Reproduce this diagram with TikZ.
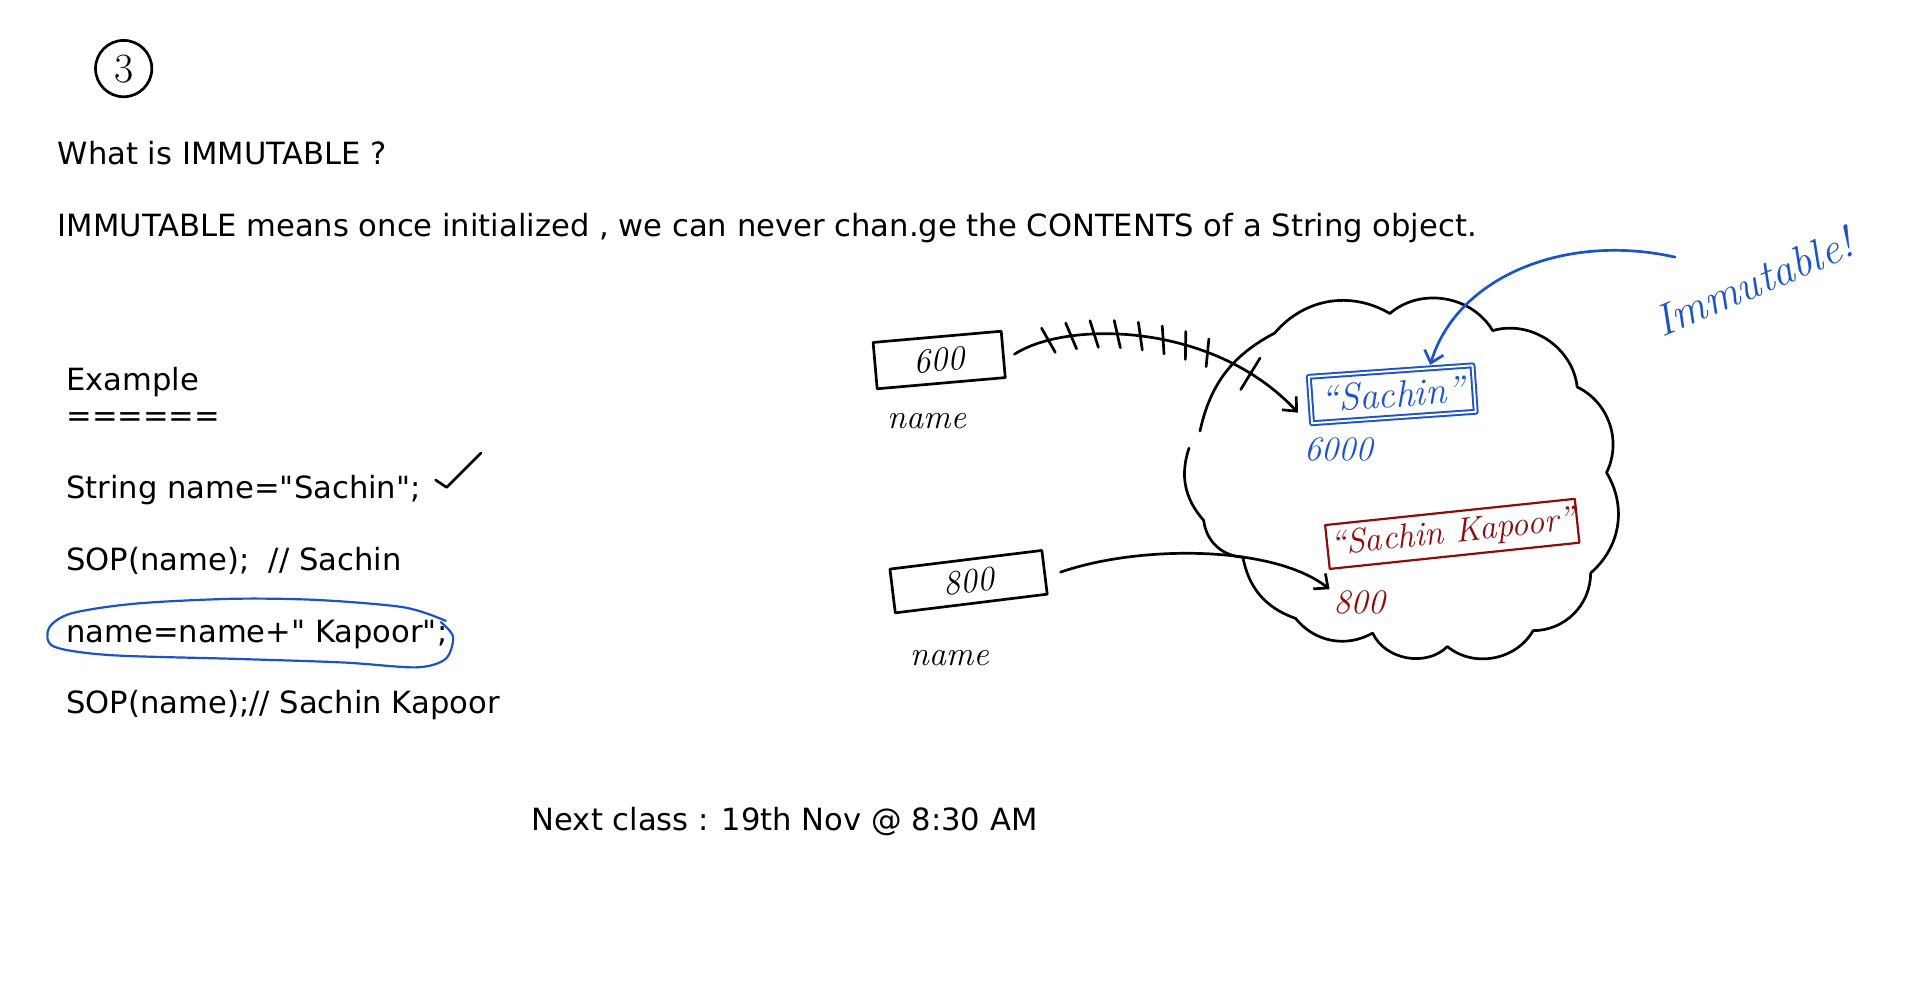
\documentclass[tikz,border=0pt]{standalone}
\usepackage{fontspec}
\usepackage{tikz}
\usetikzlibrary{arrows.meta,positioning,calc,decorations.markings}
\newfontfamily\notefont{DejaVu Sans}
\definecolor{penblue}{RGB}{28,82,204}
\definecolor{penred}{RGB}{140,12,12}
\tikzstyle{typed}=[anchor=base west,inner sep=0pt,font=\notefont\fontsize{25}{29}\selectfont]
\tikzstyle{hand}=[inner sep=1pt,font=\fontsize{28}{30}\selectfont\itshape]
\tikzstyle{pen}=[line width=2.2pt,line cap=round,line join=round]
\tikzstyle{membox}=[draw,pen,minimum height=38pt,inner sep=0pt,hand]
\tikzstyle{ref}=[pen,-{Straight Barb[length=9pt,width=16pt]}]
\tikzstyle{crossed}=[postaction=decorate,decoration={markings,
  mark=between positions 0.12 and 0.66 step 0.075 with {\draw[pen,-] (-3,-11) -- (3,11);},
  mark=at position 0.8 with {\draw[pen,-] (0,-15) -- (0,15);}}]

\begin{document}
\begin{tikzpicture}[x=1pt,y=-1pt]
\useasboundingbox (0,0) rectangle (1568,809);
\node [draw,circle,pen,minimum size=46pt,hand,font=\fontsize{34}{34}\selectfont] (num) at (101,56) {3};
\node [typed] (what) at (47,134) {What is IMMUTABLE ?};
\node [typed] (means) at (47,193) {IMMUTABLE means once initialized , we can never chan.ge the CONTENTS of a String object.};
\node [typed] (example) at (54,319) {Example};
\node [typed] (rule) at (54,348) {======};
\node [typed] (decl) at (54,407) {String name="Sachin";};
\node [typed] (print1) at (54,466) {SOP(name);\ \ // Sachin};
\node [typed] (concat) at (54,525) {name=name+" Kapoor";};
\node [typed] (print2) at (54,583) {SOP(name);// Sachin Kapoor};
\node [typed] (nextclass) at (434,678) {Next class : 19th Nov @ 8:30 AM};
\draw [pen] ($(decl.base east)+(12,-15)$) -- ++(9,6) -- ++(28,-28);
\draw [pen,penblue,line width=1.8pt] plot [smooth] coordinates {(364,507) (330,496) (260,490) (190,489)
  (110,493) (58,501) (40,513) (44,528) (90,535) (190,538) (280,541) (340,545) (364,538) (370,520) (360,508)};

% references
\node [membox,rotate=5,minimum width=105pt] (boxA) at (767,294) {600};
\node [hand,below=22pt of boxA,xshift=-12pt] (nameA) {name};
\node [membox,rotate=7,minimum width=125pt,minimum height=36pt] (boxB) at (791,475) {800};
\node [hand,below=36pt of boxB,xshift=-18pt] (nameB) {name};

% string pool
\draw [pen] (980,352) to[bend left=25] (1041,272) to[bend left=40] (1135,256)
  to[bend left=50] (1219,270) to[bend left=50] (1288,316) to[bend left=45] (1312,386)
  to[bend left=40] (1299,468) to[bend left=45] (1252,515) to[bend left=50] (1182,528)
  to[bend left=55] (1121,517) to[bend left=40] (1058,505) to[bend left=30] (1015,455)
  to[bend left=40] (983,425) to[bend left=30] (971,366);
\node [membox,draw=penblue,text=penblue,double,double distance=1.6pt,line width=1.6pt,
  rotate=4,minimum width=134pt,font=\fontsize{31}{31}\selectfont\itshape] (sachin) at (1137,322) {``Sachin''};
\node [hand,text=penblue] (addrA) at (1093,367) {6000};
\node [membox,draw=penred,text=penred,line width=1.8pt,rotate=6,minimum width=205pt,
  minimum height=36pt] (kapoor) at (1186,436) {``Sachin Kapoor''};
\node [hand,text=penred] (addrB) at (1110,492) {800};

\coordinate (tipA) at (1060,337);
\draw [ref,crossed] ([xshift=8pt]boxA.east) .. controls (870,262) and (990,262) .. (tipA);
\draw [ref] ([xshift=12pt]boxB.east) .. controls (930,445) and (1040,445) .. ([xshift=-2pt]addrB.north west);

\node [hand,text=penblue,rotate=23,font=\fontsize{36}{36}\selectfont\itshape] (imm) at (1432,230) {Immutable!};
\coordinate (immtail) at (1368,210);
\draw [ref,penblue] (immtail) .. controls (1280,190) and (1190,225) .. (1168,298);
\end{tikzpicture}
\end{document}
